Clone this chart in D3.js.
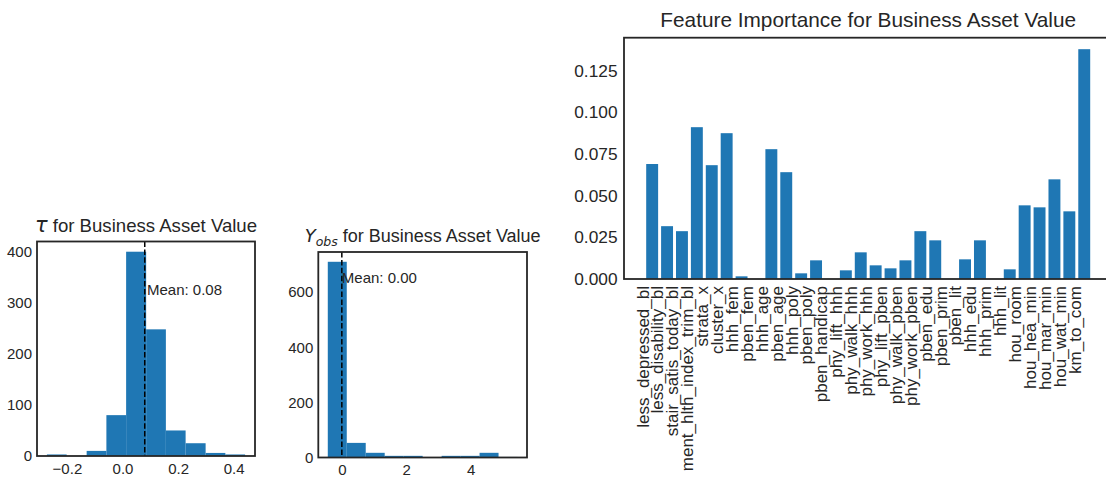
<!DOCTYPE html>
<html>
<head>
<meta charset="utf-8">
<script src="https://cdn.jsdelivr.net/npm/d3@7"></script>
<style>
  body { margin: 0; background: #fff; }
  svg { display: block; font-family: "Liberation Sans", Arial, sans-serif; }
  .frame { fill: none; stroke: #262626; stroke-width: 1.8; }
  .tick text { fill: #262626; }
</style>
</head>
<body>
<svg width="1106" height="481"></svg>
<script>
// histogram of tau
var tauEdges = [-0.272, -0.201, -0.129, -0.058, 0.013, 0.085, 0.156, 0.227, 0.299, 0.370, 0.441];
var tauCounts = [3, 0, 10, 80, 400, 248, 50, 25, 6, 3];
var tauMean = 0.08;
var tauXTicks = [-0.2, 0.0, 0.2, 0.4];
var tauYTicks = [0, 100, 200, 300, 400];

// histogram of Y_obs
var yobsEdges = [-0.436, 0.153, 0.742, 1.331, 1.920, 2.509, 3.098, 3.687, 4.276, 4.865, 5.454];
var yobsCounts = [710, 53, 17, 6, 6, 0, 6, 6, 17, 2];
var yobsMean = 0.00;
var yobsXTicks = [0, 2, 4];
var yobsYTicks = [0, 200, 400, 600];

// feature importance
var features = ["less_depressed_bl", "less_disability_bl", "stair_satis_today_bl", "ment_hlth_index_trim_bl",
    "strata_x", "cluster_x", "hhh_fem", "pben_fem", "hhh_age", "pben_age", "hhh_poly", "pben_poly",
    "pben_handicap", "phy_lift_hhh", "phy_walk_hhh", "phy_work_hhh", "phy_lift_pben", "phy_walk_pben",
    "phy_work_pben", "pben_edu", "pben_prim", "pben_lit", "hhh_edu", "hhh_prim", "hhh_lit",
    "hou_room", "hou_hea_min", "hou_mar_min", "hou_wat_min", "km_to_com"];
var importance = [0.0690, 0.0317, 0.0287, 0.0911, 0.0683, 0.0875, 0.0016, 0.0, 0.0779, 0.0641, 0.0034, 0.0112,
    0.0, 0.0052, 0.0160, 0.0082, 0.0064, 0.0112, 0.0287, 0.0232, 0.0, 0.0118, 0.0232, 0.0, 0.0058,
    0.0442, 0.0430, 0.0598, 0.0406, 0.1379];
var impYTicks = [0, 0.025, 0.05, 0.075, 0.1, 0.125];

var svg = d3.select("svg");
var blue = "#1f77b4", ink = "#262626";

function drawHist(cfg){
    var g = svg.append("g");
    var bins = cfg.counts.map((c, i)=>({x0: cfg.edges[i], x1: cfg.edges[i+1], n: c}));
    var lo = cfg.edges[0], hi = cfg.edges[cfg.edges.length-1], pad = (hi - lo) * 0.05;

    var x = d3.scaleLinear().domain([lo - pad, hi + pad]).range([cfg.left, cfg.right]);
    var y = d3.scaleLinear().domain([0, d3.max(cfg.counts) * 1.05]).range([cfg.bottom, cfg.top]);

    g.selectAll(".bar")
        .data(bins)
        .enter()
        .append("rect")
            .attr("x", d=>x(d.x0))
            .attr("width", d=>x(d.x1) - x(d.x0))
            .attr("y", d=>y(d.n))
            .attr("height", d=>y(0) - y(d.n))
            .attr("fill", blue)

    g.append("line")
        .attr("x1", x(cfg.mean)).attr("x2", x(cfg.mean))
        .attr("y1", cfg.top).attr("y2", cfg.bottom)
        .attr("stroke", "#000")
        .attr("stroke-width", 1.5)
        .attr("stroke-dasharray", "5.5,2.4")

    g.append("text")
        .attr("x", x(cfg.mean * 1.1))
        .attr("y", y(cfg.textY))
        .attr("font-size", 15)
        .attr("fill", ink)
        .text("Mean: " + d3.format(".2f")(cfg.mean))

    g.append("g")
        .attr("transform", `translate(0,${cfg.bottom})`)
        .call(d3.axisBottom(x).tickValues(cfg.xTicks).tickSize(0).tickPadding(7).tickFormat(cfg.xFormat))
    g.append("g")
        .attr("transform", `translate(${cfg.left},0)`)
        .call(d3.axisLeft(y).tickValues(cfg.yTicks).tickSize(0).tickPadding(5).tickFormat(d3.format("d")))
    g.selectAll(".domain").remove();
    g.selectAll(".tick text").attr("font-size", 15).attr("font-family", "Liberation Sans, Arial, sans-serif");

    g.append("rect")
        .classed("frame", true)
        .attr("x", cfg.left).attr("y", cfg.top)
        .attr("width", cfg.right - cfg.left).attr("height", cfg.bottom - cfg.top)

    var title = g.append("text")
        .attr("x", (cfg.left + cfg.right) / 2)
        .attr("y", cfg.top - 10)
        .attr("text-anchor", "middle")
        .attr("font-size", cfg.titleSize)
        .attr("fill", ink)
    cfg.title(title);
}

drawHist({
    edges: tauEdges, counts: tauCounts, mean: tauMean, textY: 316,
    xTicks: tauXTicks, yTicks: tauYTicks, xFormat: d3.format(".1f"),
    left: 37, right: 255, top: 241.5, bottom: 456, titleSize: 18.6,
    title: t=>{
        t.append("tspan").attr("font-family", "DejaVu Sans").attr("font-style", "italic")
            .attr("font-size", 21).text("τ");
        t.append("tspan").text(" for Business Asset Value");
    }
});

drawHist({
    edges: yobsEdges, counts: yobsCounts, mean: yobsMean, textY: 633,
    xTicks: yobsXTicks, yTicks: yobsYTicks, xFormat: d3.format("d"),
    left: 318.3, right: 527, top: 252, bottom: 457.5, titleSize: 18,
    title: t=>{
        t.append("tspan").attr("font-family", "DejaVu Sans").attr("font-style", "italic").text("Y");
        t.append("tspan").attr("font-family", "DejaVu Sans").attr("font-style", "italic")
            .attr("font-size", 12.5).attr("dy", 4).text("obs");
        t.append("tspan").attr("dy", -4).text(" for Business Asset Value");
    }
});

// bar chart
(function(){
    var left = 624, right = 1112.4, top = 37.7, bottom = 279;
    var g = svg.append("g");

    var x = d3.scaleBand()
        .domain(features)
        .range([left, right])
        .paddingInner(0.2)
        .paddingOuter(1.49);
    var y = d3.scaleLinear()
        .domain([0, d3.max(importance) * 1.05])
        .range([bottom, top]);

    g.selectAll(".imp")
        .data(features)
        .enter()
        .append("rect")
            .classed("imp", true)
            .attr("x", d=>x(d))
            .attr("width", x.bandwidth())
            .attr("y", (d, i)=>y(importance[i]))
            .attr("height", (d, i)=>y(0) - y(importance[i]))
            .attr("fill", blue)

    g.append("g")
        .attr("transform", `translate(${left},0)`)
        .call(d3.axisLeft(y).tickValues(impYTicks).tickSize(0).tickPadding(6.5).tickFormat(d3.format(".3f")))
        .selectAll(".tick text").attr("font-size", 17.3)

    // labels hang right-aligned (rotated) off the tick, like matplotlib ha='right'
    var xAxis = g.append("g")
        .attr("transform", `translate(0,${bottom})`)
        .call(d3.axisBottom(x).tickSize(0).tickPadding(0))
    xAxis.selectAll(".tick text")
        .attr("font-size", 17)
        .attr("y", 0).attr("dy", null)
        .attr("text-anchor", "end")
        .attr("transform", "translate(-3.6,7) rotate(-90)")

    g.selectAll(".domain").remove();

    g.append("rect")
        .classed("frame", true)
        .attr("x", left).attr("y", top)
        .attr("width", right - left).attr("height", bottom - top)

    g.append("text")
        .attr("x", (left + right) / 2)
        .attr("y", 26.5)
        .attr("text-anchor", "middle")
        .attr("font-size", 20.8)
        .attr("fill", ink)
        .text("Feature Importance for Business Asset Value")
})();
</script>
</body>
</html>
